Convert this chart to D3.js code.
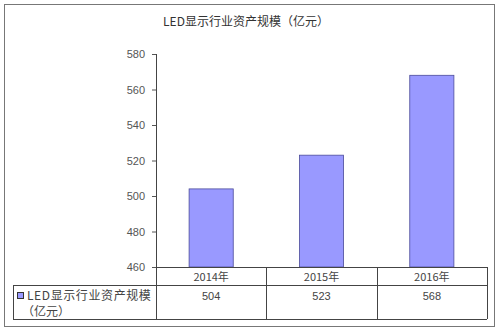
<!DOCTYPE html>
<html>
<head>
<meta charset="utf-8">
<script src="https://cdn.jsdelivr.net/npm/d3@7"></script>
<style>
  body { margin: 0; background: #fff; }
  text { font-family: "Noto Sans CJK SC", "DejaVu Sans", sans-serif; }
</style>
</head>
<body>
<div id="chart"></div>
<script>
// data
var years = ["2014年", "2015年", "2016年"];
var values = [504, 523, 568];
var yTicks = [460, 480, 500, 520, 540, 560, 580];
var seriesName = "LED显示行业资产规模";
var unitLabel = "（亿元）";
var title = "LED显示行业资产规模（亿元）";

var W = 500, H = 332;
var plotL = 156, plotR = 487, plotT = 54, plotB = 267;

var svg = d3.select("#chart")
  .append("svg")
    .attr("width", W)
    .attr("height", H);

// outer frame
svg.append("rect")
  .attr("x", 4.5).attr("y", 4.5)
  .attr("width", 490).attr("height", 322)
  .attr("fill", "#fff")
  .attr("stroke", "#777");

svg.append("text")
  .attr("x", 246).attr("y", 26)
  .attr("text-anchor", "middle")
  .attr("font-size", 12)
  .attr("fill", "#333")
  .text(title);

var x = d3.scaleBand()
  .domain(years)
  .range([plotL, plotR])
  .paddingInner(0.6)
  .paddingOuter(0.3);

var y = d3.scaleLinear()
  .domain([460, 580])
  .range([plotB, plotT]);

// Y axis
var yAxis = svg.append("g")
  .attr("transform", "translate(" + plotL + ",0)")
  .call(d3.axisLeft(y).tickValues(yTicks).tickSize(4).tickPadding(7));
yAxis.select(".domain").attr("stroke", "#555");
yAxis.selectAll(".tick line").attr("stroke", "#555");
yAxis.selectAll(".tick text")
  .attr("font-size", 11)
  .attr("fill", "#555")
  .style("font-family", "'Liberation Sans', Arial, sans-serif");

// bars
svg.append("g")
  .selectAll("rect")
  .data(values)
  .enter()
  .append("rect")
    .attr("x", (d, i) => x(years[i]))
    .attr("y", d => y(d))
    .attr("width", x.bandwidth())
    .attr("height", d => plotB - y(d))
    .attr("fill", "#9999ff")
    .attr("stroke", "#4b4b9a")
    .attr("stroke-width", 0.8);

// data table
var colW = (plotR - plotL) / years.length;
var row1 = plotB, row2 = 285, row3 = 319, tableLeft = 13;
var line = "#444";
var tbl = svg.append("g").attr("stroke", line).attr("stroke-width", 1).attr("fill", "none");
tbl.append("line").attr("x1", plotL).attr("x2", plotR).attr("y1", row1 + 0.5).attr("y2", row1 + 0.5);
tbl.append("line").attr("x1", tableLeft).attr("x2", plotR).attr("y1", row2 + 0.5).attr("y2", row2 + 0.5);
tbl.append("line").attr("x1", tableLeft).attr("x2", plotR).attr("y1", row3 + 0.5).attr("y2", row3 + 0.5);
tbl.append("line").attr("x1", tableLeft + 0.5).attr("x2", tableLeft + 0.5).attr("y1", row2).attr("y2", row3);
d3.range(years.length + 1).forEach(function(i) {
  var xx = Math.round(plotL + i * colW) + 0.5;
  tbl.append("line").attr("x1", xx).attr("x2", xx).attr("y1", i == 0 ? plotT : row1).attr("y2", row3);
});

svg.append("g")
  .selectAll("text")
  .data(years)
  .enter()
  .append("text")
    .attr("x", (d, i) => plotL + (i + 0.5) * colW)
    .attr("y", row1 + 14)
    .attr("text-anchor", "middle")
    .attr("font-size", 11)
    .attr("fill", "#444")
    .text(d => d);

svg.append("g")
  .selectAll("text")
  .data(values)
  .enter()
  .append("text")
    .attr("x", (d, i) => plotL + (i + 0.5) * colW)
    .attr("y", row2 + 15)
    .attr("text-anchor", "middle")
    .attr("font-size", 11)
    .attr("fill", "#444")
    .style("font-family", "'Liberation Sans', Arial, sans-serif")
    .text(d => d);

// legend key
svg.append("rect")
  .attr("x", 17.5).attr("y", 292.5)
  .attr("width", 6).attr("height", 6)
  .attr("fill", "#9999ff")
  .attr("stroke", "#333");
svg.append("text")
  .attr("x", 27).attr("y", 300)
  .attr("font-size", 12)
  .attr("fill", "#444")
  .attr("letter-spacing", 0.6)
  .text(seriesName);
svg.append("text")
  .attr("x", 22).attr("y", 316)
  .attr("font-size", 12)
  .attr("fill", "#444")
  .text(unitLabel);
</script>
</body>
</html>
